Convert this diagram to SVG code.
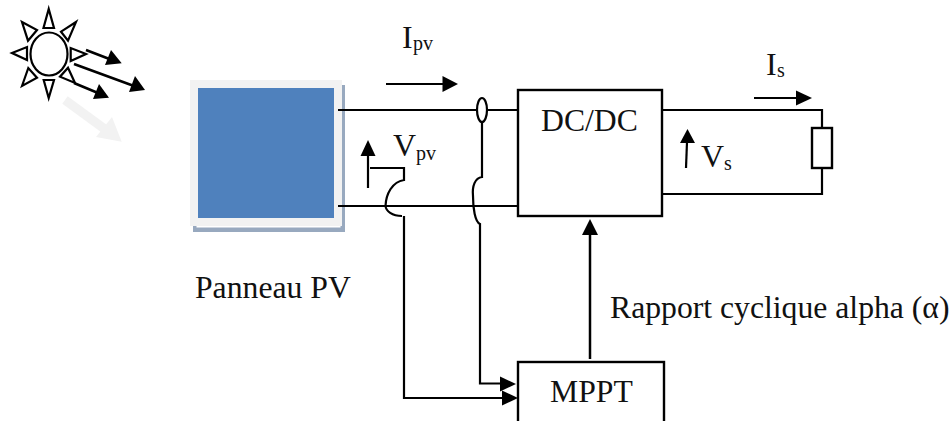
<svg xmlns="http://www.w3.org/2000/svg" width="952" height="421" viewBox="0 0 952 421">
<style>
text{font-family:"Liberation Serif","Times New Roman",serif;fill:#111}
.r{font-size:31.7px}
.b{font-size:31.7px}
.v{font-size:32px}
.sub{font-size:20px}
.w{fill:none;stroke:#000;stroke-width:2.2}
.t{fill:none;stroke:#000;stroke-width:2.2}
.a{fill:#000;stroke:none}
.box{fill:#fff;stroke:#000;stroke-width:2.4}
</style>
<rect width="952" height="421" fill="#fff"/>
<g id="sun">
<ellipse class="t" cx="49" cy="54" rx="18.5" ry="21.5"/>
<polygon class="t" points="48.7,9 43.5,28 54,28"/>
<polygon class="t" points="48.7,98 43.7,80 54,80"/>
<polygon class="t" points="12,53 27,47 27,60"/>
<polygon class="t" points="86,54 70.7,48 70.7,61"/>
<polygon class="t" points="22,22 37,30 28,40.7"/>
<polygon class="t" points="76,22 61,31.7 68,40.7"/>
<polygon class="t" points="22,86 28.3,68 37,77.7"/>
<polygon class="t" points="75,83 68,67.7 60,76.7"/>
</g>
<g id="rays">
<path class="w" style="stroke-width:2.6" d="M86 50L112 60M74 64L134 86M74 83L98 93"/>
<polygon class="a" points="121.7,63.3 105,65 111,50"/>
<polygon class="a" points="145,90 129,92 135,76"/>
<polygon class="a" points="109,97.7 93,99 99,84"/>
<path d="M65 100L106 130" stroke="#f2f2f2" stroke-width="9" fill="none"/>
<polygon points="121.7,141.7 96,137 112,117" fill="#f2f2f2"/>
</g>
<g id="panel">
<rect x="193" y="85" width="152" height="147" fill="#98a9bf"/>
<rect x="190" y="80" width="152" height="146" fill="#f2f2f2"/>
<rect x="196.500" y="226" width="144" height="1.500" fill="#fff"/>
<rect x="198" y="88" width="136" height="130" fill="#4f81bd"/>
</g>
<g id="connectors">
<path class="w" d="M338 110H477M487 110H518M338 206H518"/>
<path class="w" d="M662 110H822V128M822 168V194H662"/>
<ellipse class="w" cx="482" cy="110" rx="5" ry="12" fill="#fff"/>
<path class="w" d="M482 122V177C475 178 472 186 473 196C473 208 475 222 480 224V227"/>
<path class="w" d="M480 227V383.500H502"/>
<polygon class="a" points="516,384 500,376.500 500,391.500"/>
<path class="w" d="M368 188V155M370 168H404V180C392 182 386 194 385.500 206C386 211 392 216 402 216M404 216V398H503"/>
<polygon class="a" points="518,398 502,390.500 502,405.500"/>
<path class="w" style="stroke-width:2.500" d="M590 359V233"/>
<polygon class="a" points="590,219 582,235 598,235"/>
<polygon class="a" points="368,140 360.500,156 375.500,156"/>
<path class="w" d="M386 84H444"/>
<polygon class="a" points="458,84 442.500,76 442.500,92"/>
<path class="w" d="M754 98H798"/>
<polygon class="a" points="812,98 796,90.500 796,105.500"/>
<path class="w" d="M686 168L687 142"/>
<polygon class="a" points="687.500,129 680,143 695,143"/>
</g>
<g id="dcdc">
<rect class="box" x="518" y="90" width="144" height="126"/>
<text class="b" x="541" y="131">DC/DC</text>
</g>
<g id="mppt">
<rect class="box" x="518" y="362" width="146" height="80"/>
<text class="b" x="550" y="402">MPPT</text>
</g>
<g id="load">
<rect class="box" x="812" y="128" width="20" height="40"/>
</g>
<g id="labels">
<text class="r" x="195" y="298">Panneau PV</text>
<text class="v" x="402" y="48">I</text><text class="sub" x="413" y="50">pv</text>
<text class="v" x="393" y="156">V</text><text class="sub" x="416" y="160">pv</text>
<text class="v" x="766" y="75">I</text><text class="sub" x="777" y="77">s</text>
<text class="v" x="701" y="167">V</text><text class="sub" x="724" y="170">s</text>
<text class="r" x="610" y="318">Rapport cyclique alpha (α)</text>
</g>
</svg>
